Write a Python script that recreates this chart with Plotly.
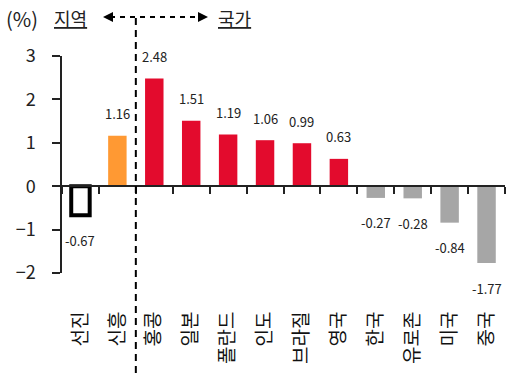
import plotly.graph_objects as go

categories = ["선진", "신흥", "홍콩", "일본", "폴란드", "인도", "브라질", "영국", "한국", "유로존", "미국", "중국"]
values = [-0.67, 1.16, 2.48, 1.51, 1.19, 1.06, 0.99, 0.63, -0.27, -0.28, -0.84, -1.77]
labels = ["-0.67", "1.16", "2.48", "1.51", "1.19", "1.06", "0.99", "0.63", "-0.27", "-0.28", "-0.84", "-1.77"]
fill_colors = ["#FFFFFF", "#FF9933"] + ["#E30B2D"] * 6 + ["#A6A6A6"] * 4
line_colors = ["#000000"] + ["rgba(0,0,0,0)"] * 11
line_widths = [4] + [0] * 11
y_ticks = [-2, -1, 0, 1, 2, 3]

FONT = "Noto Sans CJK KR"
W, H = 507, 373
L, R, T, B = 62, 2, 56, 100
pw, ph = W - L - R, H - T - B
ymin, ymax = -2, 3


def px_x(px):
    return (px - L) / pw


def px_y(py):
    return (H - B - py) / ph


fig = go.Figure()
fig.add_trace(go.Bar(
    x=categories, y=values, width=0.5,
    marker=dict(color=fill_colors, line=dict(color=line_colors, width=line_widths)),
    hoverinfo="skip",
))

for c, v, t in zip(categories, values, labels):
    fig.add_annotation(x=c, y=v, text=t, showarrow=False,
                       yshift=22 if v > 0 else -25,
                       font=dict(family=FONT, size=13, color="#222222"))

zero_pos = (0 - ymin) / (ymax - ymin)

fig.update_layout(
    width=W, height=H,
    margin=dict(l=L, r=R, t=T, b=B),
    paper_bgcolor="white", plot_bgcolor="white",
    showlegend=False,
    bargap=0.5,
    xaxis=dict(
        type="category", anchor="free", position=zero_pos,
        showline=True, linecolor="#222222", linewidth=1.5,
        ticks="outside", tickson="boundaries", ticklen=7, tickcolor="#222222", tickwidth=1.5,
        tickangle=-90, ticklabelstandoff=117,
        tickfont=dict(family=FONT, size=19, color="#111111"),
        showgrid=False, zeroline=False,
    ),
    yaxis=dict(
        range=[ymin, ymax], tickvals=y_ticks,
        showline=True, linecolor="#222222", linewidth=1.5,
        ticks="outside", ticklen=8, tickcolor="#222222", tickwidth=1.5,
        ticklabelstandoff=13,
        tickfont=dict(family=FONT, size=18, color="#222222"),
        showgrid=False, zeroline=False,
    ),
)

# header texts
hdr = dict(family=FONT, size=18, color="#222222")
fig.add_annotation(xref="paper", yref="paper", x=px_x(4), y=px_y(18), xanchor="left", yanchor="middle",
                   text="(%)", showarrow=False, font=dict(family=FONT, size=20, color="#222222"))
fig.add_annotation(xref="paper", yref="paper", x=px_x(52), y=px_y(18), xanchor="left", yanchor="middle",
                   text="<u>지역</u>", showarrow=False, font=hdr)
fig.add_annotation(xref="paper", yref="paper", x=px_x(216), y=px_y(18), xanchor="left", yanchor="middle",
                   text="<u>국가</u>", showarrow=False, font=hdr)

# dashed arrow line
fig.add_shape(type="line", xref="paper", yref="paper", x0=px_x(110), x1=px_x(200),
              y0=px_y(17), y1=px_y(17), line=dict(color="#000000", width=2, dash="5px,5px"))
fig.add_shape(type="path", xref="paper", yref="paper",
              path=f"M {px_x(103)} {px_y(17)} L {px_x(113)} {px_y(12)} L {px_x(113)} {px_y(22)} Z",
              fillcolor="#000000", line=dict(width=0))
fig.add_shape(type="path", xref="paper", yref="paper",
              path=f"M {px_x(208)} {px_y(17)} L {px_x(198)} {px_y(12)} L {px_x(198)} {px_y(22)} Z",
              fillcolor="#000000", line=dict(width=0))
# vertical divider between regions and countries
fig.add_shape(type="line", xref="x", yref="paper", x0=1.5, x1=1.5,
              y0=px_y(18), y1=px_y(373), line=dict(color="#000000", width=2, dash="7px,5px"))

fig.write_html("out.html")
